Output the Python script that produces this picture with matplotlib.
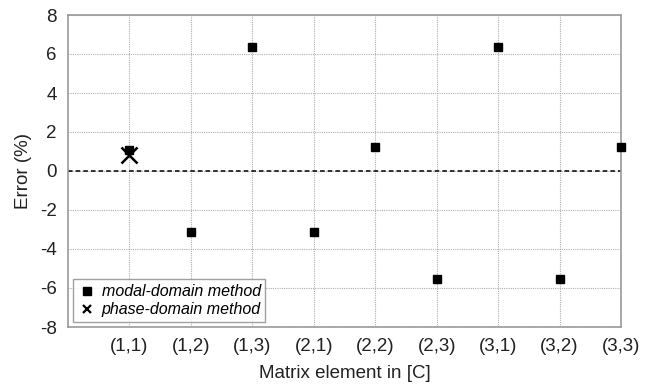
import matplotlib
matplotlib.use("Agg")
import matplotlib.pyplot as plt
from matplotlib.lines import Line2D

plt.rcParams["font.family"] = ["Liberation Sans", "DejaVu Sans"]
plt.rcParams["axes.unicode_minus"] = False

elements = ["(1,1)", "(1,2)", "(1,3)", "(2,1)", "(2,2)", "(2,3)", "(3,1)", "(3,2)", "(3,3)"]
modal_err = [1.08, -3.15, 6.38, -3.15, 1.22, -5.55, 6.38, -5.55, 1.22]
phase_elem = ["(1,1)"]
phase_err = [0.82]

pos = list(range(1, len(elements) + 1))
phase_pos = [elements.index(e) + 1 for e in phase_elem]

fig = plt.figure(figsize=(6.53, 3.87), dpi=100)
ax = fig.add_axes([68 / 653, 1 - 327 / 387, (621 - 68) / 653, (327 - 15) / 387])

ax.axhline(0, color="black", linestyle=(0, (3, 2)), linewidth=1.1, zorder=2)
ax.plot(pos, modal_err, linestyle="none", marker="s", markersize=5.8, color="black", zorder=4, clip_on=False)
ax.plot(phase_pos, phase_err, linestyle="none", marker="x", markersize=11, markeredgewidth=1.8, color="black", zorder=5)

ax.set_xlim(0, 9)
ax.set_ylim(-8, 8)
ax.set_xticks(pos)
ax.set_xticklabels(elements)
ax.set_yticks(range(-8, 9, 2))
ax.tick_params(axis="both", length=0, labelsize=13.5, pad=8, colors="#222222")
ax.grid(True, color="#b0b0b0", linestyle=(0, (1, 1)), linewidth=0.8)
ax.set_axisbelow(True)
for s in ax.spines.values():
    s.set_color("#999999")
    s.set_linewidth(1.2)

ax.set_xlabel("Matrix element in [C]", fontsize=13.5, labelpad=7, color="#222222")
ax.set_ylabel("Error (%)", fontsize=13.5, labelpad=6, color="#222222")

handles = [
    Line2D([], [], linestyle="none", marker="s", markersize=6, color="black"),
    Line2D([], [], linestyle="none", marker="x", markersize=6, markeredgewidth=1.6, color="black"),
]
leg = ax.legend(handles, ["modal-domain method", "phase-domain method"], loc="lower left",
                prop={"style": "italic", "size": 11.5}, frameon=True, fancybox=False,
                borderaxespad=0.3, handletextpad=0.3, borderpad=0.3, labelspacing=0.2,
                handlelength=1.2)
leg.get_frame().set_edgecolor("#888888")
leg.get_frame().set_linewidth(1.0)

fig.savefig("out.png", dpi=100)
